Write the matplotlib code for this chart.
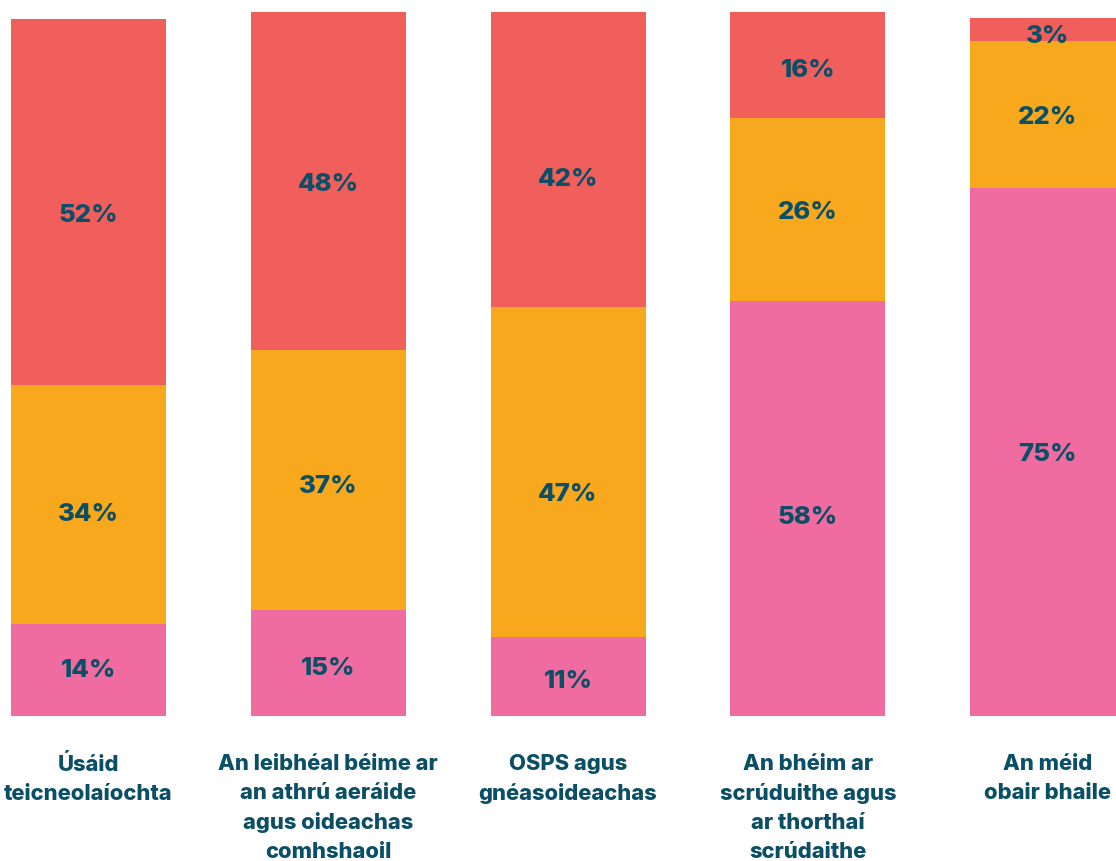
import matplotlib
matplotlib.use("Agg")
import matplotlib.pyplot as plt

categories = [
    "Úsáid\nteicneolaíochta",
    "An leibhéal béime ar\nan athrú aeráide\nagus oideachas\ncomhshaoil",
    "OSPS agus\ngnéasoideachas",
    "An bhéim ar\nscrúduithe agus\nar thorthaí\nscrúdaithe",
    "An méid\nobair bhaile",
]
pink_vals = [13.1, 15.1, 11.2, 59.0, 75.0]
orange_vals = [33.9, 36.9, 46.9, 25.9, 20.9]
red_vals = [52.0, 48.0, 41.9, 15.1, 3.3]
pink_labels = ["14%", "15%", "11%", "58%", "75%"]
orange_labels = ["34%", "37%", "47%", "26%", "22%"]
red_labels = ["52%", "48%", "42%", "16%", "3%"]

# label nudges (pixels, downward) to mimic the reference placement
pink_nudge = [-2, 3, 2, 7, 0]
orange_nudge = [8, 4, 20, 1, 1]
red_nudge = [11, 1, 18, 3, 5]

PINK = "#F06CA0"
ORANGE = "#F8A81D"
RED = "#F05F5C"
TEXT = "#0B4F66"
FONT = "Inter"

W, H = 1116, 861
fig = plt.figure(figsize=(W / 100, H / 100), dpi=100)
ax = fig.add_axes([0, 145 / H, 1, 716 / H])
ax.set_xlim(-88.5 / 239.75, (W - 88.5) / 239.75)
PX_PER_PCT = 7.04
ax.set_ylim(0, 716 / PX_PER_PCT)
ax.axis("off")

x = list(range(len(categories)))
width = 155 / 239.75
bottom = [0] * len(x)
for vals, labels, nudges, col in [(pink_vals, pink_labels, pink_nudge, PINK),
                                  (orange_vals, orange_labels, orange_nudge, ORANGE),
                                  (red_vals, red_labels, red_nudge, RED)]:
    ax.bar(x, vals, width=width, bottom=bottom, color=col, linewidth=0)
    for xi, b, v, lab, nd in zip(x, bottom, vals, labels, nudges):
        ax.text(xi, b + v / 2 - nd / PX_PER_PCT, lab, ha="center", va="center_baseline",
                fontsize=18.5, fontweight="heavy", color=TEXT, family=FONT)
    bottom = [b + v for b, v in zip(bottom, vals)]

for xi, cat in zip(x, categories):
    xf = ax.transData.transform((xi, 0))[0] / W
    fig.text(xf, 1 - 754 / H, cat, ha="center", va="top", fontsize=15.8,
             fontweight="heavy", color=TEXT, family=FONT, linespacing=1.55)

fig.savefig("out.png", dpi=100)
